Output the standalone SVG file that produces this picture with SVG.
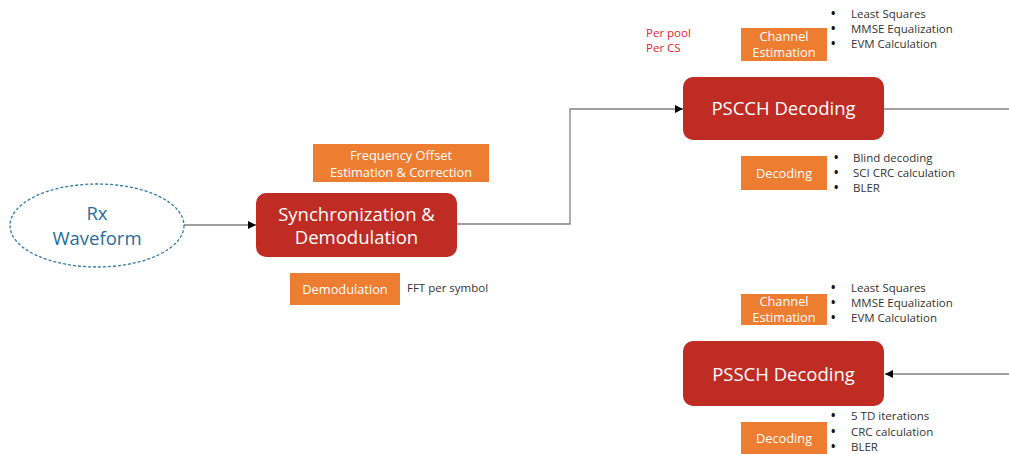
<svg xmlns="http://www.w3.org/2000/svg" width="1009" height="454" viewBox="0 0 1009 454">
<style>
text{font-family:"Open Sans","Noto Sans","Liberation Sans",sans-serif}
.red{fill:#BE2C24}
.org{fill:#ED7D31}
.big{fill:#fff;font-size:18.5px;text-anchor:middle}
.sm{fill:#fff;font-size:12.8px;text-anchor:middle}
.bl{fill:#333;font-size:11.5px}
.dot{fill:#111;font-size:11.5px;font-weight:bold}
.ln{stroke:#808080;stroke-width:1.3;fill:none}
</style>
<defs>
<marker id="ah" viewBox="0 0 10 10" refX="10" refY="5" markerWidth="8" markerHeight="8" markerUnits="userSpaceOnUse" orient="auto"><path d="M0,0L10,5L0,10z" fill="#000"/></marker>
</defs>
<g id="connectors">
<path class="ln" d="M184,225H256" marker-end="url(#ah)"/>
<path class="ln" d="M457,224H570V109H683" marker-end="url(#ah)"/>
<path class="ln" d="M884,109H1009"/>
<path class="ln" d="M1009,374H885" marker-end="url(#ah)"/>
</g>
<g id="rx">
<ellipse cx="97" cy="225.5" rx="87" ry="41.5" fill="#fff" stroke="#2E7BA6" stroke-width="1.3" stroke-dasharray="3,2"/>
<text x="97" y="220" fill="#1F6E9C" font-size="18.5" text-anchor="middle">Rx</text>
<text x="97" y="245" fill="#1F6E9C" font-size="18.5" text-anchor="middle">Waveform</text>
</g>
<g id="sync">
<rect class="red" x="256" y="193" width="201" height="64" rx="10"/>
<text class="big" x="356.5" y="221">Synchronization &amp;</text>
<text class="big" x="356.5" y="244">Demodulation</text>
</g>
<g id="freq">
<rect class="org" x="313" y="144" width="176" height="38"/>
<text class="sm" x="401" y="160">Frequency Offset</text>
<text class="sm" x="401" y="177">Estimation &amp; Correction</text>
</g>
<g id="demod">
<rect class="org" x="290" y="273" width="110" height="32"/>
<text class="sm" x="345" y="294">Demodulation</text>
<text class="bl" x="407" y="292">FFT per symbol</text>
</g>
<g id="perpool">
<text x="646" y="37" fill="#E0262B" font-size="11.5">Per pool</text>
<text x="646" y="52" fill="#E0262B" font-size="11.5">Per CS</text>
</g>
<g id="pscch">
<rect class="red" x="683" y="77" width="201" height="63" rx="10"/>
<text class="big" x="783.5" y="115" font-size="19.5">PSCCH Decoding</text>
</g>
<g id="ce1">
<rect class="org" x="741" y="28" width="86" height="33"/>
<text class="sm" x="784" y="41">Channel</text>
<text class="sm" x="784" y="57">Estimation</text>
<text class="dot" x="831" y="18">•</text><text class="bl" x="851" y="18">Least Squares</text>
<text class="dot" x="831" y="33">•</text><text class="bl" x="851" y="33">MMSE Equalization</text>
<text class="dot" x="831" y="48">•</text><text class="bl" x="851" y="48">EVM Calculation</text>
</g>
<g id="dec1">
<rect class="org" x="741" y="156" width="86" height="34"/>
<text class="sm" x="784" y="178">Decoding</text>
<text class="dot" x="834" y="162">•</text><text class="bl" x="853" y="162">Blind decoding</text>
<text class="dot" x="834" y="177">•</text><text class="bl" x="853" y="177">SCI CRC calculation</text>
<text class="dot" x="834" y="192">•</text><text class="bl" x="853" y="192">BLER</text>
</g>
<g id="ce2">
<rect class="org" x="741" y="294" width="86" height="31"/>
<text class="sm" x="784" y="306">Channel</text>
<text class="sm" x="784" y="322">Estimation</text>
<text class="dot" x="831" y="292">•</text><text class="bl" x="851" y="292">Least Squares</text>
<text class="dot" x="831" y="307">•</text><text class="bl" x="851" y="307">MMSE Equalization</text>
<text class="dot" x="831" y="322">•</text><text class="bl" x="851" y="322">EVM Calculation</text>
</g>
<g id="pssch">
<rect class="red" x="683" y="341" width="201" height="65" rx="10"/>
<text class="big" x="783.5" y="381" font-size="19.5">PSSCH Decoding</text>
</g>
<g id="dec2">
<rect class="org" x="741" y="422" width="86" height="32"/>
<text class="sm" x="784" y="443">Decoding</text>
<text class="dot" x="831" y="420">•</text><text class="bl" x="851" y="420">5 TD iterations</text>
<text class="dot" x="831" y="436">•</text><text class="bl" x="851" y="436">CRC calculation</text>
<text class="dot" x="831" y="451">•</text><text class="bl" x="851" y="451">BLER</text>
</g>
</svg>
